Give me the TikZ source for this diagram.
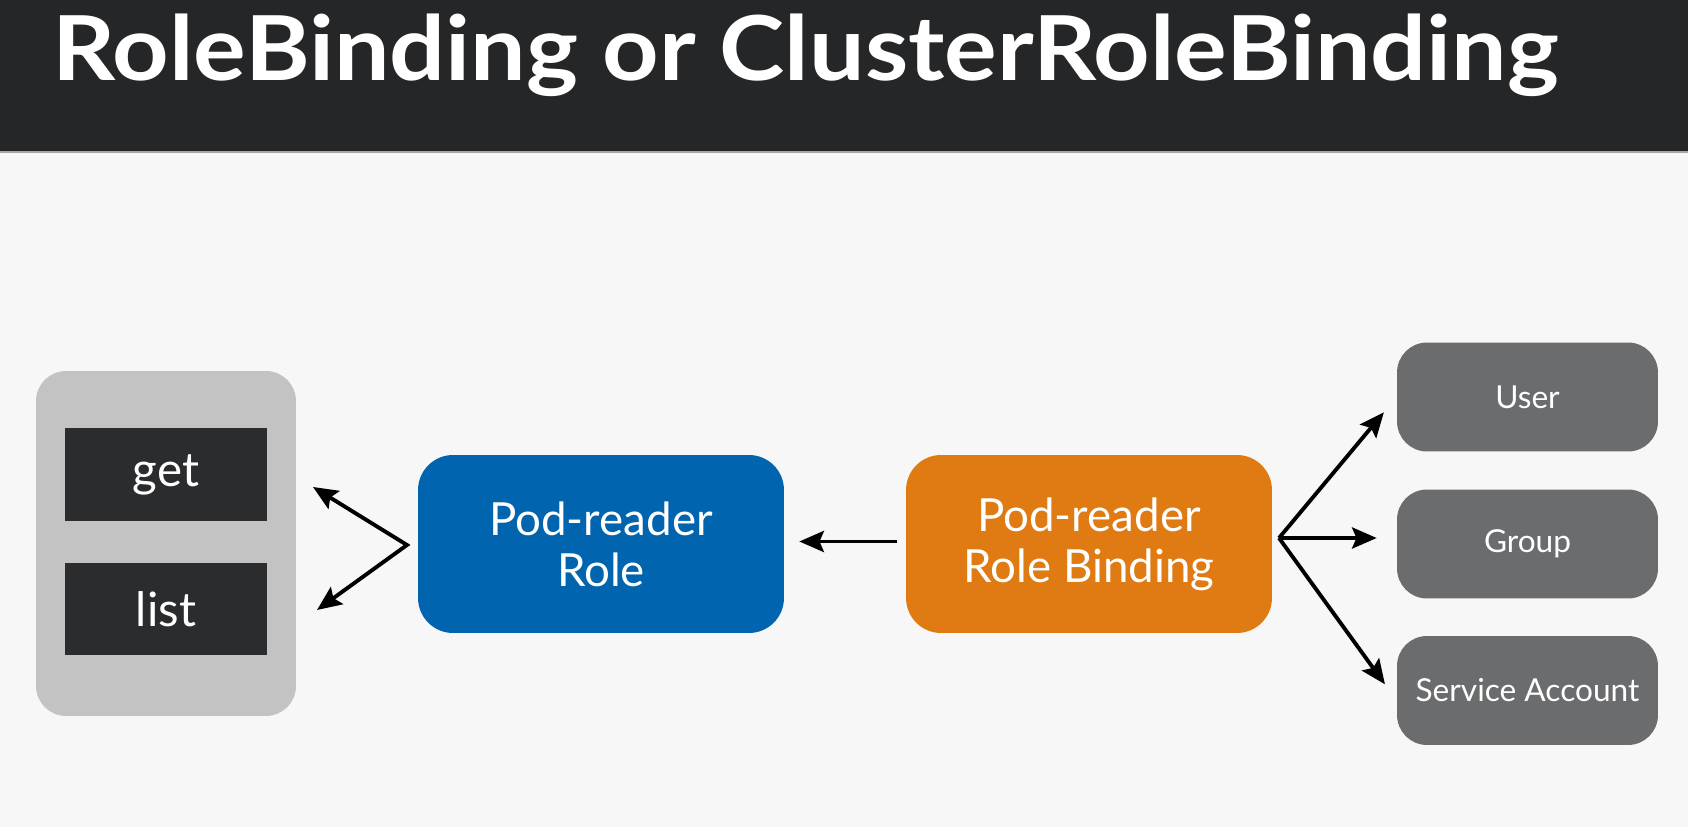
\documentclass[tikz,border=0pt]{standalone}
\usepackage{fontspec}
\setmainfont{Lato}
\usetikzlibrary{arrows.meta}

\definecolor{headbg}{HTML}{252628}
\definecolor{pagebg}{HTML}{F7F7F7}
\definecolor{roleblue}{HTML}{0064AE}
\definecolor{bindorange}{HTML}{E07A12}
\definecolor{panelgray}{HTML}{C3C3C3}
\definecolor{verbdark}{HTML}{2B2C2E}
\definecolor{subjgray}{HTML}{6B6C6E}

\begin{document}
\begin{tikzpicture}[x=0.02cm, y=-0.02cm,
	verb/.style={fill=verbdark, text=white, minimum width=4.04cm, minimum height=1.86cm,
		font=\fontsize{27}{31}\selectfont},
	bigbox/.style={rounded corners=0.7cm, text=white, minimum width=7.32cm, minimum height=3.56cm,
		align=center, font=\fontsize{26}{29}\selectfont},
	subj/.style={fill=subjgray, rounded corners=0.6cm, text=white, minimum width=5.22cm,
		minimum height=2.18cm, font=\fontsize{18}{21}\selectfont},
	arr/.style={line width=2.2pt, {Stealth[length=14pt,width=12pt,inset=2.5pt]}-{Stealth[length=14pt,width=12pt,inset=2.5pt]}},
	fwd/.style={line width=2.2pt, -{Stealth[length=14pt,width=12pt,inset=2.5pt]}}]
	\useasboundingbox (0,0) rectangle (1688,827);

	% page and header
	\fill[pagebg] (0,0) rectangle (1688,827);
	\fill[headbg] (0,0) rectangle (1688,151);
	\draw[gray!70, line width=0.04cm] (0,152) -- (1688,152);
	\node[anchor=base west, inner sep=0, text=white, font=\fontsize{51}{60}\selectfont\bfseries]
		(title) at (52,81) {\scalebox{1.1}[1]{RoleBinding or ClusterRoleBinding}};

	% verbs
	\node[fill=panelgray, rounded corners=0.6cm, minimum width=5.2cm, minimum height=6.9cm] (panel) at (166,543.5) {};
	\node[verb] (get) at (166,474.5) {get};
	\node[verb] (list) at (166,609) {list};

	% role and binding
	\node[bigbox, fill=roleblue] (role) at (601,544) {Pod-reader\\Role};
	\node[bigbox, fill=bindorange] (binding) at (1089,544) {Pod-reader\\Role Binding};

	% subjects
	\node[subj] (user) at (1527.5,397) {User};
	\node[subj] (group) at (1527.5,544) {Group};
	\node[subj] (sa) at (1527.5,690.5) {Service Account};

	% arrows
	\coordinate (fork) at (407,545);
	\coordinate (getend) at (313,487);
	\coordinate (listend) at (317,610);
	\draw[arr] (getend) -- (fork) -- (listend);

	\draw[fwd, shorten <=0.18cm, shorten >=0.3cm] ([yshift=0.05cm]binding.west) -- ([yshift=0.05cm]role.east);

	\coordinate (fan) at (1279,538);
	\draw[fwd, shorten >=0.4cm] (fan) -- (user.west);
	\draw[fwd, shorten >=0.4cm] (fan) -- ([yshift=0.12cm]group.west);
	\draw[fwd, shorten >=0.4cm] (fan) -- ([yshift=-0.2cm]sa.west);
\end{tikzpicture}
\end{document}
